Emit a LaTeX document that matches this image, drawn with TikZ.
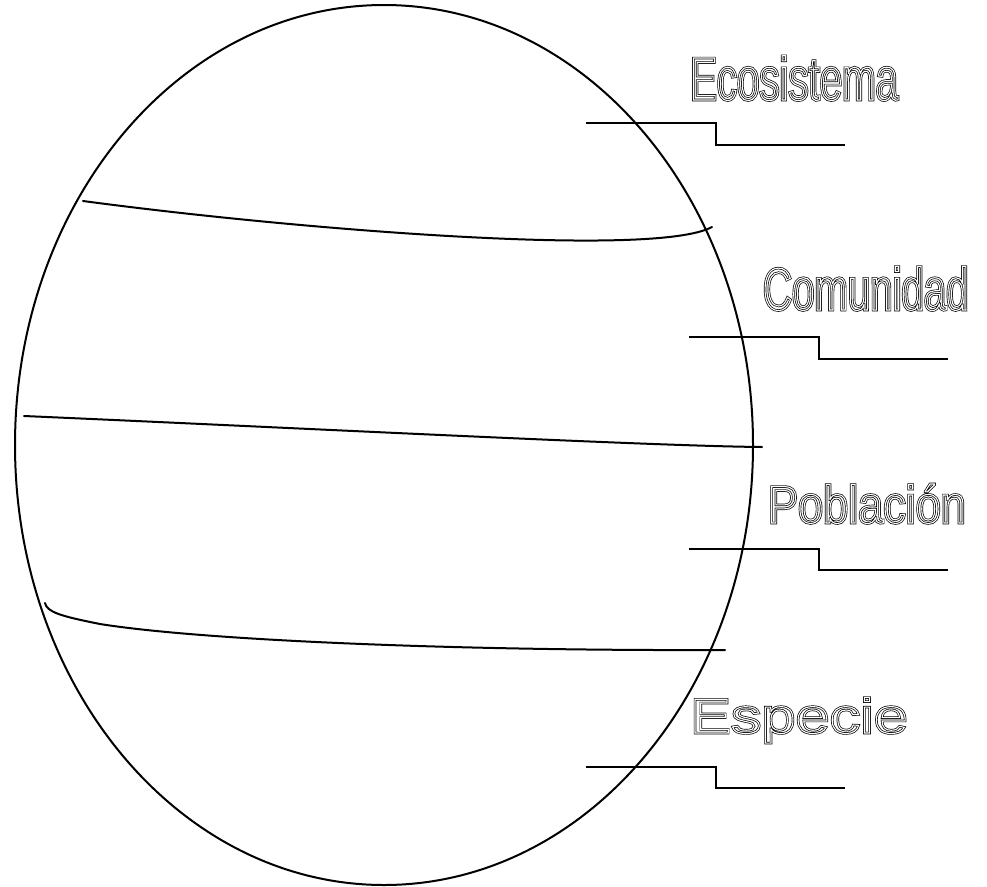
\documentclass[tikz,border=0pt]{standalone}
\usepackage{fontspec}
\setmainfont{Liberation Sans}
\newfontfamily\ecofont[FakeStretch=0.66]{Liberation Sans}
\newfontfamily\comfont[FakeStretch=0.67]{Liberation Sans}
\newfontfamily\pobfont[FakeStretch=0.85]{Liberation Sans}
\newfontfamily\espfont[FakeStretch=1.25]{Liberation Sans}
\newcommand\otext[2]{%
  \rlap{#1\special{pdf:literal direct 1 Tr 2.5 w 0 G}#2\special{pdf:literal direct 0 Tr 0 G 0 g}}%
  {#1\special{pdf:literal direct 1 Tr 1.1 w 1 G}#2\special{pdf:literal direct 0 Tr 0 G 0 g 1 w}}}
\tikzset{
  edge line/.style={line width=2pt, line cap=round},
  leader/.style={line width=1.8pt},
  lbl/.style={anchor=base west, inner sep=0pt, outer sep=0pt}
}
\begin{document}
\begin{tikzpicture}[x=1pt,y=-1pt]
\useasboundingbox (0,0) rectangle (987,886);
% sphere
\draw[edge line] (384,445) ellipse [x radius=369, y radius=440];
% dividing curves
\coordinate (c1a) at (83,201);
\coordinate (c1b) at (712,227);
\draw[edge line] (c1a) .. controls (300,230) and (655,258) .. (c1b);
\coordinate (c2a) at (24,416);
\coordinate (c2b) at (762,447);
\draw[edge line] (c2a) .. controls (300,428) and (650,446) .. (c2b);
\coordinate (c3a) at (45,603);
\coordinate (c3m) at (100,624);
\coordinate (c3b) at (725,650);
\draw[edge line] (c3a) .. controls (47,612) and (60,616) .. (c3m) .. controls (200,640) and (450,651) .. (c3b);
% leaders
\coordinate (l1a) at (586,123); \coordinate (l1b) at (716,123); \coordinate (l1c) at (716,145); \coordinate (l1d) at (845,145);
\draw[leader] (l1a) -- (l1b) -- (l1c) -- (l1d);
\coordinate (l2a) at (689,337); \coordinate (l2b) at (819,337); \coordinate (l2c) at (819,359); \coordinate (l2d) at (948,359);
\draw[leader] (l2a) -- (l2b) -- (l2c) -- (l2d);
\coordinate (l3a) at (689,549); \coordinate (l3b) at (819,549); \coordinate (l3c) at (819,570); \coordinate (l3d) at (948,570);
\draw[leader] (l3a) -- (l3b) -- (l3c) -- (l3d);
\coordinate (l4a) at (586,767); \coordinate (l4b) at (716,767); \coordinate (l4c) at (716,788); \coordinate (l4d) at (845,788);
\draw[leader] (l4a) -- (l4b) -- (l4c) -- (l4d);
% labels
\node[lbl] (eco) at (690,100) {\otext{\ecofont\fontsize{61}{61}\selectfont}{Ecosistema}};
\node[lbl] (com) at (763,310) {\otext{\comfont\fontsize{60}{60}\selectfont}{Comunidad}};
\node[lbl] (pob) at (768,523) {\otext{\pobfont\fontsize{53}{53}\selectfont}{Población}};
\node[lbl] (esp) at (690,733) {\otext{\espfont\fontsize{49}{49}\selectfont}{Especie}};
\end{tikzpicture}
\end{document}
